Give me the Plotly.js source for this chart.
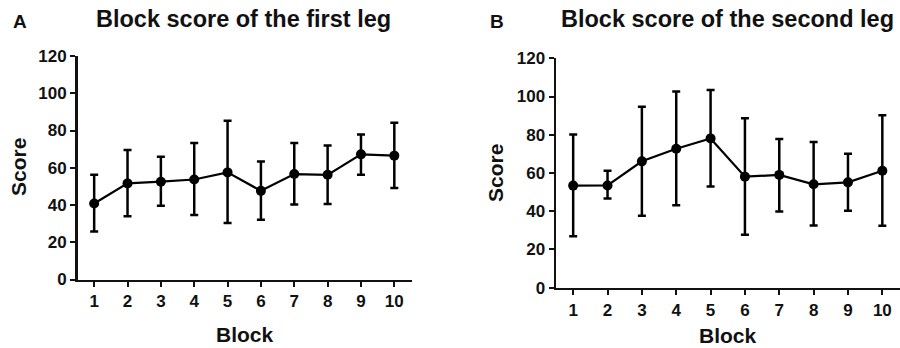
<!DOCTYPE html>
<html>
<head>
<meta charset="utf-8">
<script src="https://cdn.plot.ly/plotly-3.0.1.min.js"></script>
<style>html,body{margin:0;padding:0;background:#fff;}#chart{width:900px;height:348px;}</style>
</head>
<body>
<div id="chart"></div>
<script>
// Data
var blocks = [1, 2, 3, 4, 5, 6, 7, 8, 9, 10];
var tickLabels = ["1", "2", "3", "4", "5", "6", "7", "8", "9", "10"];

var firstLegMean  = [40.8, 51.6, 52.5, 53.7, 57.5, 47.6, 56.6, 56.2, 67.2, 66.5];
var firstLegUpper = [56.2, 69.5, 65.9, 73.3, 85.3, 63.4, 73.3, 72.0, 77.9, 84.2];
var firstLegLower = [25.8, 33.9, 39.6, 34.6, 30.3, 32.1, 40.3, 40.5, 56.2, 49.1];

var secondLegMean  = [53.4, 53.5, 66.1, 72.7, 78.1, 58.1, 59.0, 54.1, 55.1, 61.2];
var secondLegUpper = [80.2, 61.2, 94.7, 102.6, 103.4, 88.6, 77.8, 76.2, 70.1, 90.2];
var secondLegLower = [26.9, 46.6, 37.7, 43.1, 53.0, 27.7, 39.9, 32.6, 40.3, 32.4];

var yTicks = [0, 20, 40, 60, 80, 100, 120];

function diff(a, b) { return a.map(function (v, i) { return +(v - b[i]).toFixed(2); }); }

function makeTrace(mean, upper, lower, xa, ya) {
  return {
    x: blocks, y: mean, xaxis: xa, yaxis: ya,
    type: 'scatter', mode: 'lines+markers',
    line: {color: '#000', width: 2.2},
    marker: {color: '#000', size: 10},
    cliponaxis: false,
    error_y: {
      type: 'data', symmetric: false,
      array: diff(upper, mean), arrayminus: diff(mean, lower),
      color: '#000', thickness: 2.5, width: 4
    },
    hoverinfo: 'x+y', showlegend: false
  };
}

var W = 900, H = 348;
function px(x) { return x / W; }
function py(y) { return 1 - y / H; }

var FONT = 'Liberation Sans, Arial, Helvetica, sans-serif';
var tickFont = {family: FONT, size: 17, color: '#111', weight: 700};

function xAxis(dom, anchor, rangeR) {
  return {
    domain: dom, anchor: anchor, range: [0.5, rangeR],
    tickmode: 'array', tickvals: blocks, ticktext: tickLabels,
    ticks: 'outside', ticklen: 5, tickwidth: 2, tickcolor: '#111',
    showline: true, linewidth: 2.5, linecolor: '#111',
    showgrid: false, zeroline: false, tickfont: tickFont, fixedrange: true
  };
}
function yAxis(dom, anchor) {
  return {
    domain: dom, anchor: anchor, range: [0, 120],
    tickmode: 'array', tickvals: yTicks,
    ticks: 'outside', ticklen: 5, tickwidth: 2, tickcolor: '#111',
    showline: true, linewidth: 2.5, linecolor: '#111',
    showgrid: false, zeroline: false, tickfont: tickFont, fixedrange: true
  };
}

var data = [
  makeTrace(firstLegMean, firstLegUpper, firstLegLower, 'x', 'y'),
  makeTrace(secondLegMean, secondLegUpper, secondLegLower, 'x2', 'y2')
];

function ann(text, x, y, size, extra) {
  var a = {text: text, x: px(x), y: py(y), xref: 'paper', yref: 'paper',
    showarrow: false, xanchor: 'center', yanchor: 'middle',
    font: {family: FONT, size: size, color: '#111', weight: 700}};
  for (var k in extra) a[k] = extra[k];
  return a;
}

var layout = {
  width: W, height: H,
  margin: {l: 0, r: 0, t: 0, b: 0},
  paper_bgcolor: '#fff', plot_bgcolor: '#fff',
  xaxis: xAxis([px(77.5), px(412)], 'y', 10.53),
  yaxis: yAxis([1 - 279.5 / H, 1 - 56 / H], 'x'),
  xaxis2: xAxis([px(556), px(899.5)], 'y2', 10.5),
  yaxis2: yAxis([1 - 287.7 / H, 1 - 58.3 / H], 'x2'),
  annotations: [
    ann('A', 20, 22, 19),
    ann('Block score of the first leg', 243, 19, 23.5),
    ann('B', 497, 22, 19),
    ann('Block score of the second leg', 727, 19, 23.5),
    ann('Score', 19, 167, 21, {textangle: -90}),
    ann('Block', 245, 334, 21),
    ann('Score', 495, 173, 21, {textangle: -90}),
    ann('Block', 728, 335, 21)
  ]
};

Plotly.newPlot('chart', data, layout, {displayModeBar: false, staticPlot: true});
</script>
</body>
</html>
